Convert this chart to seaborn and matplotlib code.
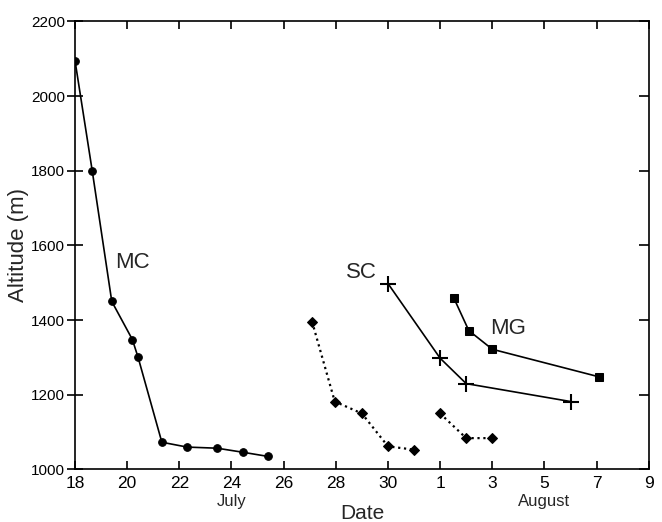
import matplotlib
matplotlib.use("Agg")
import matplotlib.pyplot as plt
import seaborn as sns
import pandas as pd

# Day numbers: July d -> d, August d -> 31 + d
mc_day = [18.0, 18.66, 19.41, 20.2, 20.42, 21.33, 22.3, 23.45, 24.45, 25.4]
mc_alt = [2095, 1800, 1450, 1348, 1300, 1073, 1060, 1057, 1046, 1035]

d1_day = [27.09, 27.96, 29.0, 30.0, 31.0]
d1_alt = [1396, 1182, 1150, 1062, 1053]

d2_day = [32.0, 33.0, 34.0]
d2_alt = [1150, 1084, 1084]

sc_day = [30.0, 32.0, 33.0, 37.0]
sc_alt = [1498, 1298, 1230, 1182]

mg_day = [32.52, 33.1, 34.0, 38.1]
mg_alt = [1460, 1372, 1322, 1248]

xtick_pos = [18, 20, 22, 24, 26, 28, 30, 32, 34, 36, 38, 40]
xtick_lab = ["18", "20", "22", "24", "26", "28", "30", "1", "3", "5", "7", "9"]
ytick_pos = [1000, 1200, 1400, 1600, 1800, 2000, 2200]

sns.set_theme(style="ticks")
plt.rcParams["font.family"] = ["Liberation Sans", "DejaVu Sans"]

fig = plt.figure(figsize=(6.62, 5.22), dpi=100)
ax = fig.add_axes([0.1133, 0.1006, 0.8667, 0.8584])

lw = 1.2
sns.lineplot(x=mc_day, y=mc_alt, sort=False, ax=ax, color="black", lw=lw,
             marker="o", markersize=5.5, markeredgecolor="black", markerfacecolor="black")
sns.lineplot(x=d1_day, y=d1_alt, sort=False, ax=ax, color="black", lw=1.6, linestyle=":",
             marker="D", markersize=5, markeredgecolor="black", markerfacecolor="black")
sns.lineplot(x=d2_day, y=d2_alt, sort=False, ax=ax, color="black", lw=1.6, linestyle=":",
             marker="D", markersize=5, markeredgecolor="black", markerfacecolor="black")
sns.lineplot(x=sc_day, y=sc_alt, sort=False, ax=ax, color="black", lw=lw,
             marker="+", markersize=11, markeredgewidth=1.5, markeredgecolor="black")
sns.lineplot(x=mg_day, y=mg_alt, sort=False, ax=ax, color="black", lw=lw,
             marker="s", markersize=5.5, markeredgecolor="black", markerfacecolor="black")

ax.text(19.53, 1540, "MC", fontsize=16, ha="left", va="baseline")
ax.text(29.57, 1513, "SC", fontsize=16, ha="right", va="baseline")
ax.text(33.9, 1363, "MG", fontsize=16, ha="left", va="baseline")

ax.set_xlim(18, 40)
ax.set_ylim(1000, 2200)
ax.set_xticks(xtick_pos)
ax.set_xticklabels(xtick_lab)
ax.set_yticks(ytick_pos)
ax.tick_params(axis="x", direction="in", length=6, width=1.2, top=True,
               labelsize=12.5, pad=5, colors="black")
ax.tick_params(axis="y", which="both", left=True, right=True, width=1.2,
               labelsize=11, colors="black")
ax.tick_params(axis="y", direction="inout", length=12, pad=1)
for s in ax.spines.values():
    s.set_linewidth(1.2)
    s.set_color("black")
# right-side ticks point inward only
for t in ax.yaxis.get_major_ticks():
    t.tick2line.set_marker(matplotlib.lines.TICKLEFT)
    t.tick2line.set_markersize(7)

ax.set_xlabel("Date", fontsize=15, va="center")
ax.xaxis.set_label_coords(0.5, -0.098)
ax.set_ylabel("Altitude (m)", fontsize=16, labelpad=2)

ax.text(24, -0.071, "July", transform=ax.get_xaxis_transform(), ha="center", va="center", fontsize=12)
ax.text(36, -0.071, "August", transform=ax.get_xaxis_transform(), ha="center", va="center", fontsize=12)

fig.savefig("out.png", dpi=100)
